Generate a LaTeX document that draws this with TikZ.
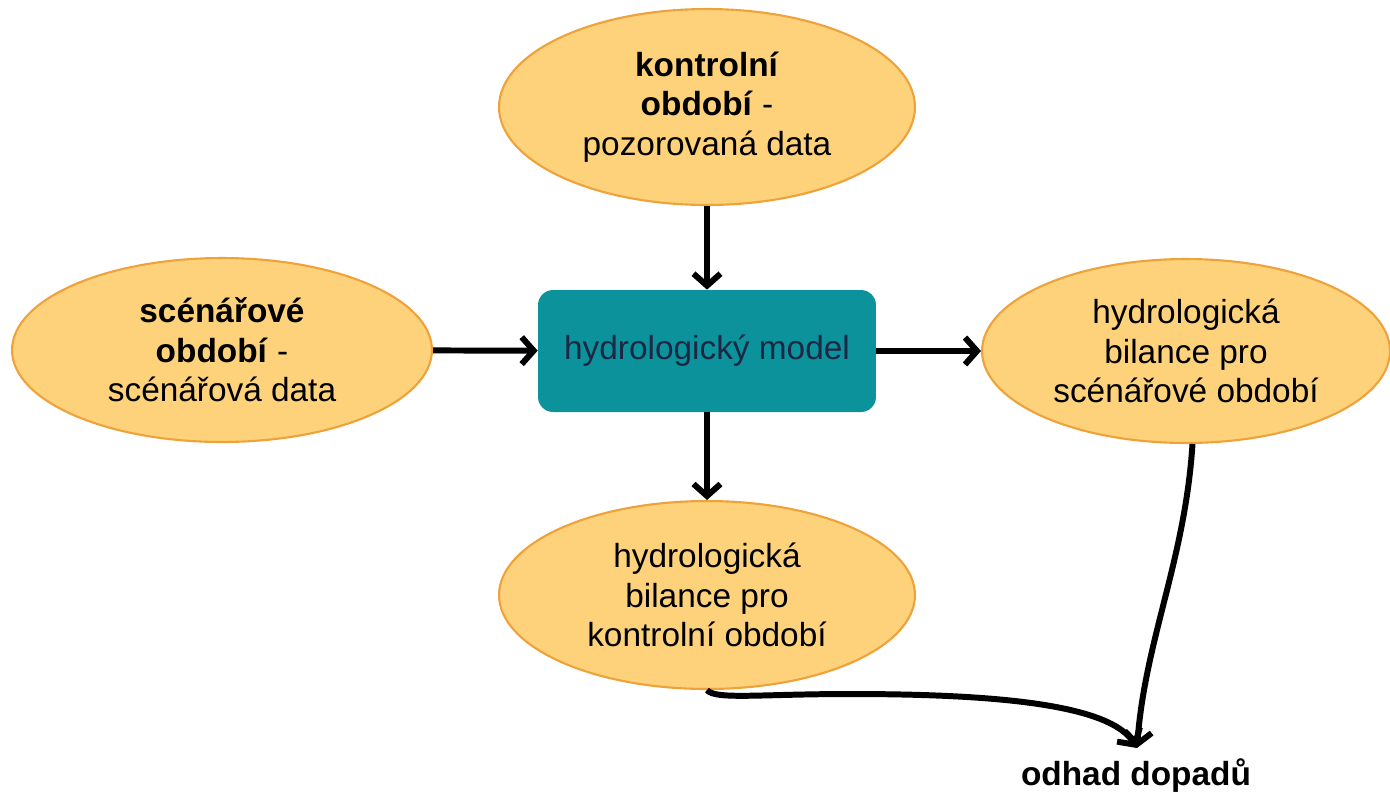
\documentclass[tikz,border=0pt]{standalone}
\usepackage{fontspec}
\setmainfont{Liberation Sans}
\usetikzlibrary{arrows.meta,shapes.geometric}

\definecolor{ovalfill}{HTML}{FDD27B}
\definecolor{ovaldraw}{HTML}{EFA23A}
\definecolor{modelfill}{HTML}{0C929B}
\definecolor{modeltext}{HTML}{1B2745}

\begin{document}
\begin{tikzpicture}[
 x=0.02cm,y=-0.02cm,
 oval/.style={
  ellipse,
  draw=ovaldraw,
  fill=ovalfill,
  line width=1.2pt,
  inner sep=0pt,
  align=center,
  font=\fontsize{19}{22.5}\selectfont
 },
 model/.style={
  rectangle,
  rounded corners=0.3cm,
  fill=modelfill,
  text=modeltext,
  minimum width=6.76cm,
  minimum height=2.44cm,
  font=\fontsize{19}{22.5}\selectfont
 },
 flow/.style={-{Straight Barb[length=2.4mm,width=5.4mm]},line width=3.4pt}
]
 \useasboundingbox (0,0) rectangle (1390,796);

 \node[oval,minimum width=8.32cm,minimum height=3.92cm] (ctrl) at (707,107)
  {\textbf{kontrolní}\\\textbf{období} -\\pozorovaná data};
 \node[oval,minimum width=8.4cm,minimum height=3.68cm] (scen) at (222,350)
  {\textbf{scénářové}\\\textbf{období} -\\scénářová data};
 \node[model] (hm) at (707,351) {hydrologický model};
 \node[oval,minimum width=8.16cm,minimum height=3.68cm] (hbs) at (1186,351)
  {hydrologická\\bilance pro\\scénářové období};
 \node[oval,minimum width=8.32cm,minimum height=3.76cm] (hbk) at (707,595)
  {hydrologická\\bilance pro\\kontrolní období};
 \node[font=\fontsize{19}{22.5}\selectfont\bfseries] (odhad) at (1136,776)
  {odhad dopadů};
 \coordinate (tip) at (1137,748);

 \draw[flow] (ctrl) -- (hm);
 \draw[flow] (scen) -- (hm);
 \draw[flow] (hm) -- (hbs);
 \draw[flow] (hm) -- (hbk);
 \draw[flow] (hbk.south) .. controls (715,700) and (760,694) .. (850,694)
  .. controls (1000,694) and (1110,705) .. (tip);
 \draw[flow] (hbs.-86) .. controls (1185,560) and (1145,640) .. (tip);
\end{tikzpicture}
\end{document}
